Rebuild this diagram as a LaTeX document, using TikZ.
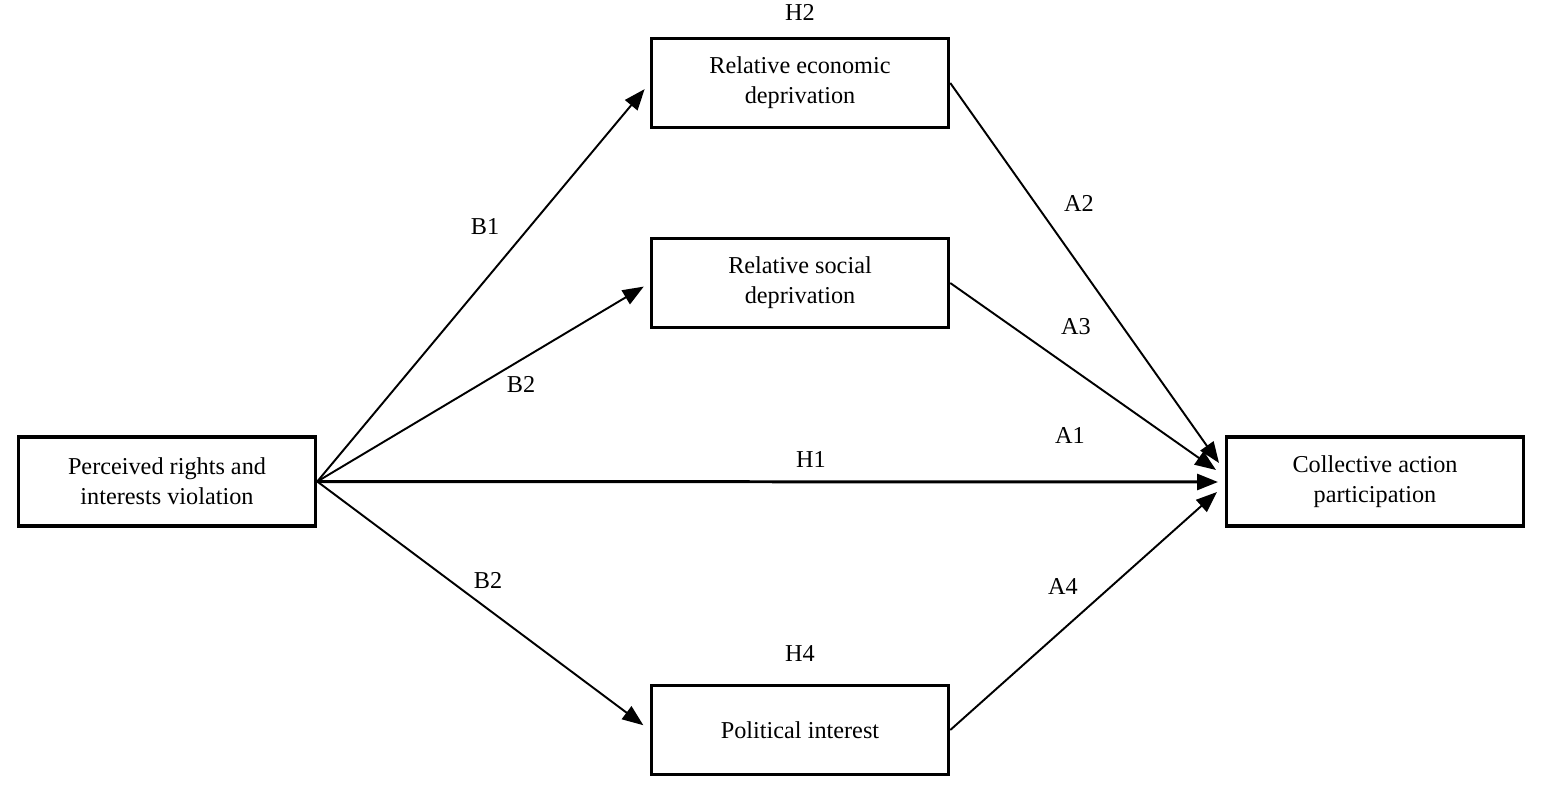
\documentclass[tikz,border=0pt]{standalone}
\usepackage{fontspec}
\setmainfont{Liberation Serif}
\usetikzlibrary{arrows.meta}

\begin{document}
\begin{tikzpicture}[
        every node/.style={font=\fontsize{13.8}{17}\selectfont},
        construct/.style={draw, rectangle, line width=2pt, minimum width=5.94cm, minimum height=1.78cm, align=center},
        path/.style={-{Triangle[length=0.42cm, width=0.32cm]}, line width=1.1pt},
        mainpath/.style={path, line width=1.7pt},
        tag/.style={inner sep=1pt}
    ]
        \useasboundingbox (0, 0) rectangle (30.84, 16.04);

        \node[construct] (violation) at (3.34, 6.41) {Perceived rights and\\interests violation};
        \node[construct] (econ) at (16, 14.38) {Relative economic\\deprivation};
        \node[construct] (social) at (16, 10.38) {Relative social\\deprivation};
        \node[construct] (interest) at (16, 1.44) {Political interest};
        \node[construct] (action) at (27.5, 6.41) {Collective action\\participation};

        % arrow ends in front of the outcome box
        \coordinate (inA2) at (24.38, 6.78);
        \coordinate (inA3) at (24.32, 6.64);
        \coordinate (inH1) at (24.36, 6.40);
        \coordinate (inA4) at (24.34, 6.20);

        \draw[path, shorten >=0.16cm] (violation.east) -- (econ.west);
        \draw[path, shorten >=0.14cm] (violation.east) -- (social.west);
        \draw[path, shorten >=0.16cm] (violation.east) -- (interest.west);
        \draw[mainpath] (violation.east) -- (inH1);

        \draw[path] (econ.east) -- (inA2);
        \draw[path] (social.east) -- (inA3);
        \draw[path] (interest.east) -- (inA4);

        \node[tag] (h2) at (16, 15.80) {H2};
        \node[tag] (b1) at (9.70, 11.50) {B1};
        \node[tag] (a2) at (21.58, 11.98) {A2};
        \node[tag] (b2top) at (10.42, 8.34) {B2};
        \node[tag] (a3) at (21.52, 9.50) {A3};
        \node[tag] (a1) at (21.40, 7.34) {A1};
        \node[tag] (h1) at (16.22, 6.86) {H1};
        \node[tag] (b2bot) at (9.76, 4.42) {B2};
        \node[tag] (a4) at (21.26, 4.32) {A4};
        \node[tag] (h4) at (16, 2.96) {H4};

    \end{tikzpicture}
\end{document}
